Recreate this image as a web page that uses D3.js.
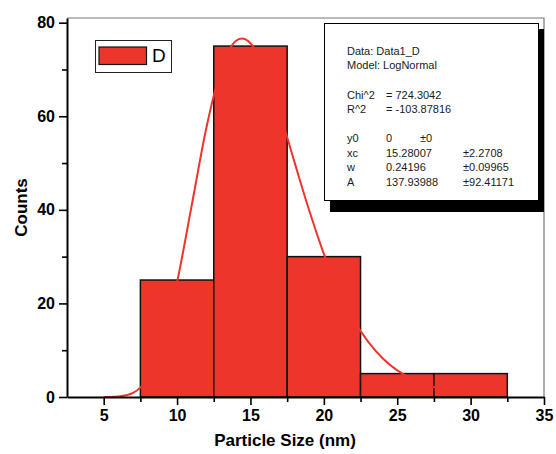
<!DOCTYPE html>
<html>
<head>
<meta charset="utf-8">
<script src="https://cdn.jsdelivr.net/npm/d3@7"></script>
<style>
  body { margin: 0; background: #fff; }
  text { font-family: "Liberation Sans", Arial, Helvetica, sans-serif; }
</style>
</head>
<body>
<div id="chart"></div>
<script>
// histogram bins (nm) and counts
var binStart = [7.5, 12.5, 17.5, 22.5, 27.5];
var binEnd = [12.5, 17.5, 22.5, 27.5, 32.5];
var counts = [25, 75, 30, 5, 5];

// LogNormal fit curve
var fitX = [5, 6, 7, 7.5, 8, 9, 10, 11, 12, 13, 14, 14.4, 15, 16, 17, 18, 19, 20, 21, 22, 23, 24, 25, 26, 27, 28, 29, 30, 31];
var fitY = [0, 0.1, 0.9, 2.0, 4.0, 11.5, 24.5, 41, 57.6, 70, 76.1, 76.6, 75.6, 69.8, 60.7, 50.2, 39.9, 30.6, 22.8, 16.6, 11.9, 8.3, 5.7, 3.9, 2.6, 1.8, 1.2, 0.8, 0.5];

var xTicks = [5, 10, 15, 20, 25, 30, 35];
var xMinorTicks = [7.5, 12.5, 17.5, 22.5, 27.5, 32.5];
var yTicks = [0, 20, 40, 60, 80];
var yMinorTicks = [10, 30, 50, 70];

var legendLabel = "D";
var fitHeader = ["Data: Data1_D", "Model: LogNormal"];
var fitStats = [["Chi^2", "= 724.3042"], ["R^2", "= -103.87816"]];
var fitParams = [
  ["y0", "0", "\u00b10"],
  ["xc", "15.28007", "\u00b12.2708"],
  ["w", "0.24196", "\u00b10.09965"],
  ["A", "137.93988", "\u00b192.41171"]
];

var W = 556, H = 454;
var pLeft = 67, pRight = 544, pTop = 18, pBottom = 397;
var red = "#ee352c";

var svg = d3.select("#chart").append("svg")
    .attr("width", W)
    .attr("height", H);

var x = d3.scaleLinear().domain([2.5, 35]).range([pLeft, pRight]);
var y = d3.scaleLinear().domain([0, 81]).range([pBottom, pTop]);

// grey frame top/right
svg.append("path")
    .attr("d", "M" + pLeft + "," + pTop + "H" + pRight + "V" + pBottom)
    .attr("fill", "none")
    .attr("stroke", "#777")
    .attr("stroke-width", 1.2);

// bars
svg.append("g")
    .selectAll("rect")
    .data(counts)
    .enter()
    .append("rect")
    .attr("x", function(d, i){ return x(binStart[i]); })
    .attr("y", function(d){ return y(d); })
    .attr("width", function(d, i){ return x(binEnd[i]) - x(binStart[i]); })
    .attr("height", function(d){ return y(0) - y(d); })
    .attr("fill", red)
    .attr("stroke", "#111")
    .attr("stroke-width", 1.5);

// fit curve on top of the bars
var line = d3.line()
    .x(function(d, i){ return x(fitX[i]); })
    .y(function(d){ return y(d); })
    .curve(d3.curveMonotoneX);

svg.append("path")
    .datum(fitY)
    .attr("d", line)
    .attr("fill", "none")
    .attr("stroke", red)
    .attr("stroke-width", 2);

// axes
svg.append("g")
    .attr("transform", "translate(0," + pBottom + ")")
    .call(d3.axisBottom(x).tickValues(xTicks).tickSize(8).tickSizeOuter(0).tickPadding(5));
svg.append("g")
    .attr("transform", "translate(0," + pBottom + ")")
    .call(d3.axisBottom(x).tickValues(xMinorTicks).tickSize(5).tickFormat("").tickSizeOuter(0))
    .select(".domain").remove();

svg.append("g")
    .attr("transform", "translate(" + pLeft + ",0)")
    .call(d3.axisLeft(y).tickValues(yTicks).tickSize(8).tickSizeOuter(0).tickPadding(4));
svg.append("g")
    .attr("transform", "translate(" + pLeft + ",0)")
    .call(d3.axisLeft(y).tickValues(yMinorTicks).tickSize(5).tickFormat("").tickSizeOuter(0))
    .select(".domain").remove();

svg.selectAll(".domain").attr("stroke", "#000").attr("stroke-width", 2);
svg.selectAll(".tick line").attr("stroke", "#000").attr("stroke-width", 1.6);
svg.selectAll(".tick text")
    .attr("fill", "#000")
    .style("font-size", "16px")
    .style("font-weight", "bold");

// axis titles
svg.append("text")
    .attr("x", 285)
    .attr("y", 446)
    .attr("text-anchor", "middle")
    .style("font-size", "17px")
    .style("font-weight", "bold")
    .text("Particle Size (nm)");

svg.append("text")
    .attr("transform", "translate(27," + ((pTop + pBottom) / 2) + ") rotate(-90)")
    .attr("text-anchor", "middle")
    .style("font-size", "17px")
    .style("font-weight", "bold")
    .text("Counts");

// legend
var legend = svg.append("g");
legend.append("rect")
    .attr("x", 95.5).attr("y", 40.5)
    .attr("width", 76).attr("height", 32)
    .attr("fill", "#fff")
    .attr("stroke", "#222")
    .attr("stroke-width", 1);
legend.append("rect")
    .attr("x", 99).attr("y", 47)
    .attr("width", 47.5).attr("height", 17.5)
    .attr("fill", red)
    .attr("stroke", "#111")
    .attr("stroke-width", 1.2);
legend.append("text")
    .attr("x", 152).attr("y", 62)
    .style("font-size", "19px")
    .text(legendLabel);

// fit results box with shadow
var bx = 324, by = 23, bw = 214, bh = 177;
svg.append("rect")
    .attr("x", bx + 6).attr("y", by + 6)
    .attr("width", bw).attr("height", bh + 6)
    .attr("fill", "#000");
svg.append("rect")
    .attr("x", bx + 0.5).attr("y", by + 0.5)
    .attr("width", bw).attr("height", bh)
    .attr("fill", "#fff")
    .attr("stroke", "#000")
    .attr("stroke-width", 1);

var info = svg.append("g")
    .style("font-size", "11px")
    .attr("fill", "#1a1a1a");

fitHeader.forEach(function(s, i){
    info.append("text").attr("x", 347).attr("y", 55 + i * 14.3).text(s);
});
fitStats.forEach(function(r, i){
    info.append("text").attr("x", 347).attr("y", 99 + i * 14.3).text(r[0]);
    info.append("text").attr("x", 386).attr("y", 99 + i * 14.3).text(r[1]);
});
fitParams.forEach(function(r, i){
    var yy = 142 + i * 14.5;
    info.append("text").attr("x", 347).attr("y", yy).text(r[0]);
    info.append("text").attr("x", 386).attr("y", yy).text(r[1]);
    info.append("text").attr("x", i === 0 ? 420 : 463).attr("y", yy).text(r[2]);
});
</script>
</body>
</html>
